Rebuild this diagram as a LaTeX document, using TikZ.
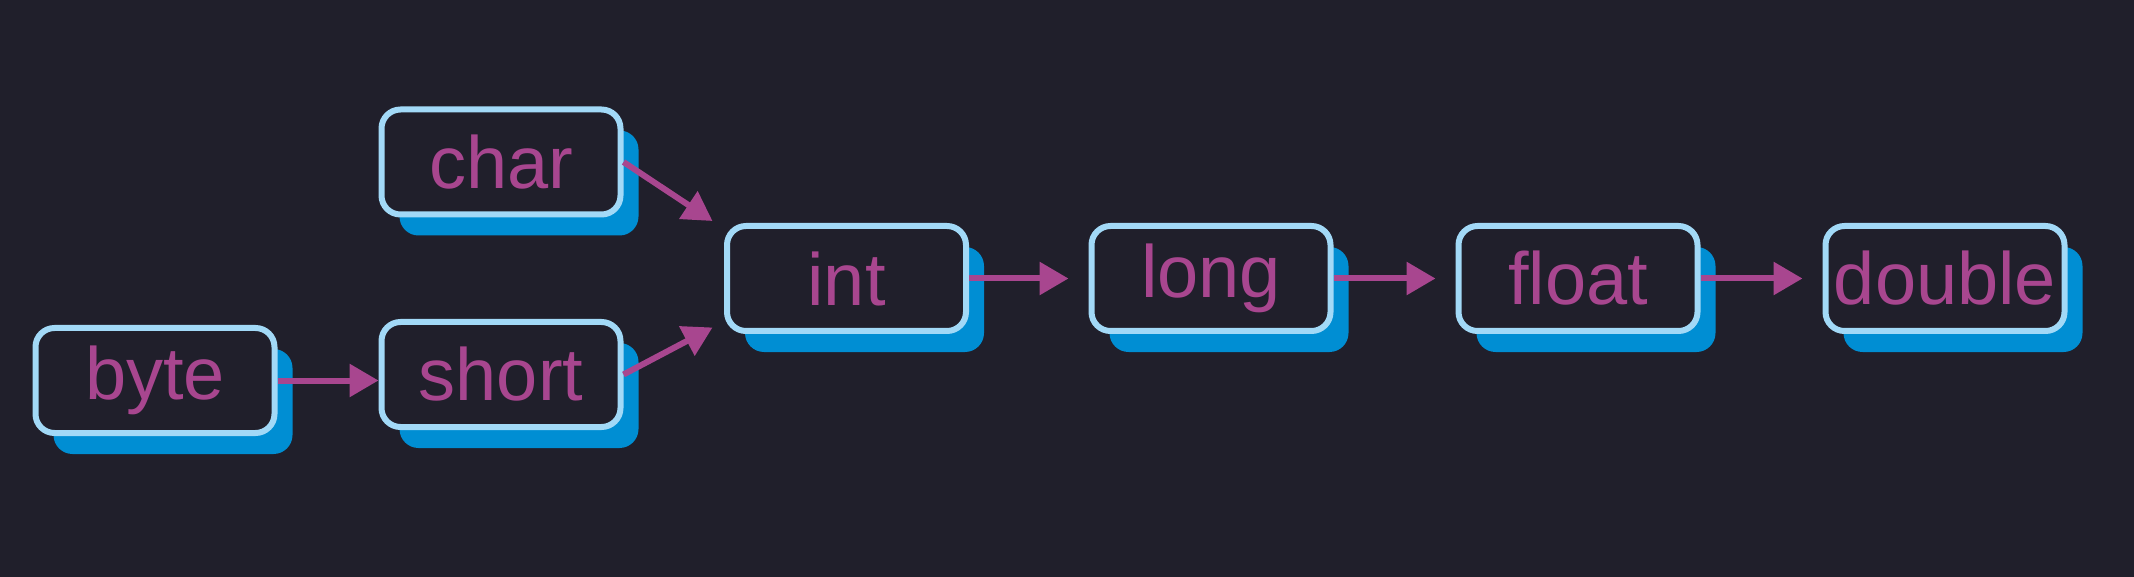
\documentclass[tikz,border=0pt]{standalone}
\usepackage{fontspec}
\setmainfont{Liberation Sans}
\usetikzlibrary{arrows.meta,shadows}
\definecolor{bgc}{HTML}{201F2B}
\definecolor{edgec}{HTML}{A2D9F7}
\definecolor{shadowc}{HTML}{008ED3}
\definecolor{txtc}{HTML}{A8468F}
\tikzset{
  typebox/.style={rectangle, rounded corners=19pt, draw=edgec, line width=6pt,
    fill=bgc, text=txtc, minimum width=239pt, minimum height=105pt, inner sep=0pt,
    font=\fontsize{74}{80}\selectfont,
    drop shadow={shadow xshift=18pt, shadow yshift=-21pt, fill=shadowc, opacity=1}},
  arr/.style={draw=txtc, line width=6pt,
    -{Triangle[length=29pt,width=32pt]}}
}
\begin{document}
\begin{tikzpicture}[x=1pt,y=-1pt]
\fill[bgc] (0,0) rectangle (2134,577);
\useasboundingbox (0,0) rectangle (2134,577);
\node[typebox] (byte)   at (155,380.5) {byte};
\node[typebox] (short)  at (501,374.5) {short};
\node[typebox] (char)   at (501,162) {char};
\node[typebox] (int)    at (846.5,278.5) {int};
\node[typebox] (long)   at (1211,278.5) {long};
\node[typebox] (float)  at (1578,278.5) {float};
\node[typebox] (double) at (1945,278.5) {double};
\coordinate (tipA) at (712.5,221);
\coordinate (tipB) at (712.5,327.5);
\draw[arr] (byte.east) -- (byte.east -| short.west);
\draw[arr] (char.east) -- (tipA);
\draw[arr] (short.east) -- (tipB);
\draw[arr, shorten >=20pt] (int.east) -- (long.west);
\draw[arr, shorten >=20pt] (long.east) -- (float.west);
\draw[arr, shorten >=20pt] (float.east) -- (double.west);
\end{tikzpicture}
\end{document}
